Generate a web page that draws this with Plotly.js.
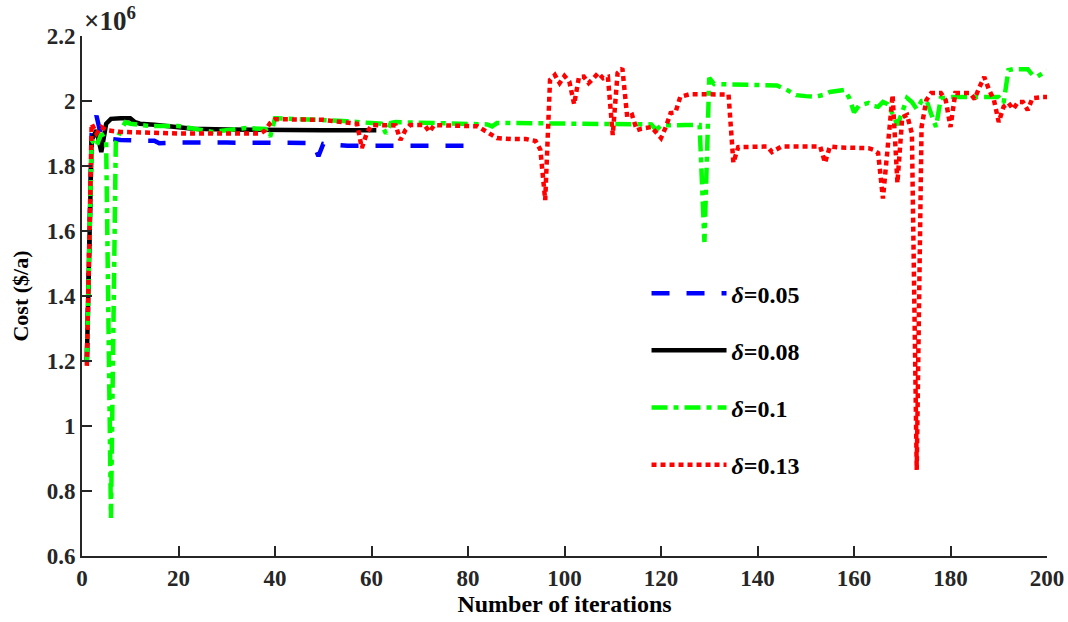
<!DOCTYPE html>
<html>
<head>
<meta charset="utf-8">
<script src="https://cdn.plot.ly/plotly-3.0.1.min.js"></script>
<style>html,body{margin:0;padding:0;background:#fff;}#chart{width:1068px;height:622px;}</style>
</head>
<body>
<div id="chart"></div>
<script>
// Cost values in units of 1e6 $/a
const blueX = [1,2,3,4,5,8,12,15,16,20,30,40,47,48,49,50,53,55,60,70,82];
const blueY = [1.20,1.90,1.955,1.89,1.885,1.88,1.878,1.878,1.870,1.872,1.872,1.872,1.871,1.868,1.830,1.868,1.865,1.862,1.862,1.862,1.862];

const blackX = [1,2,3,4,5,6,8,10,11,12,15,20,23,30,40,50,61];
const blackY = [1.20,1.88,1.91,1.843,1.93,1.945,1.947,1.947,1.935,1.930,1.927,1.918,1.915,1.912,1.910,1.910,1.910];

const greenX = [1,2,3,4,5,6,7,8,9,10,14,20,27,34,38,39,40,45,50,55,60,62,63,64,65,70,80,84,85,86,90,100,110,118,119,120,125,128,129,130,131,135,140,144,146,148,150,152,154,155,156,158,159,160,161,162,163,164,165,166,167,168,169,170,171,172,173,174,175,176,177,178,180,185,190,191,192,193,196,197,198,199,200];
const greenY = [1.20,1.88,1.86,1.90,1.875,0.717,1.87,1.91,1.935,1.930,1.923,1.923,1.905,1.917,1.914,1.890,1.947,1.945,1.940,1.938,1.932,1.930,1.900,1.932,1.935,1.933,1.932,1.928,1.922,1.932,1.932,1.930,1.930,1.928,1.911,1.925,1.926,1.926,1.566,2.071,2.052,2.050,2.048,2.048,2.035,2.018,2.015,2.013,2.020,2.028,2.030,2.034,2.010,1.965,1.985,1.988,1.994,1.985,1.982,1.997,1.990,1.960,1.926,1.966,2.009,1.997,1.975,2.000,2.003,1.960,1.920,2.009,2.012,2.012,2.012,1.994,2.095,2.098,2.098,2.080,2.075,2.085,2.095];

const redX = [1,2,3,4,5,8,20,37,38,39,40,50,54,57,58,59,60,65,66,67,68,71,72,73,82,84,86,89,92,94,95,96,97,98,99,100,101,102,103,104,105,106,107,108,109,110,111,112,113,114,115,116,118,120,121,122,123,124,126,134,135,136,142,143,145,153,154,155,157,163,164,165,166,167,168,169,170,171,172,173,174,175,176,178,179,180,181,184,185,186,187,188,189,190,191,192,193,194,195,196,197,199,200];
const redY = [1.185,1.93,1.90,1.92,1.91,1.905,1.900,1.900,1.910,1.932,1.944,1.942,1.935,1.930,1.855,1.900,1.926,1.925,1.880,1.910,1.926,1.926,1.905,1.926,1.922,1.905,1.886,1.883,1.883,1.877,1.850,1.695,2.065,2.080,2.055,2.077,2.060,1.990,2.074,2.075,2.055,2.070,2.086,2.070,2.074,1.895,2.086,2.100,1.950,1.957,1.910,1.915,1.920,1.886,1.920,1.963,1.965,2.013,2.021,2.020,1.810,1.858,1.860,1.843,1.860,1.860,1.810,1.860,1.857,1.855,1.850,1.840,1.700,1.860,2.018,1.748,1.950,1.957,1.900,0.865,1.920,2.003,2.025,2.025,2.003,1.920,2.025,2.025,2.006,2.043,2.074,2.034,2.003,1.935,1.982,1.994,1.975,1.997,1.997,1.972,2.009,2.012,2.012];

const seriesNames = ['<b><i>δ</i>=0.05</b>','<b><i>δ</i>=0.08</b>','<b><i>δ</i>=0.1</b>','<b><i>δ</i>=0.13</b>'];
const xTicks = [0,20,40,60,80,100,120,140,160,180,200];
const yTicks = [0.6,0.8,1,1.2,1.4,1.6,1.8,2,2.2];
const yTickText = ['0.6','0.8','1','1.2','1.4','1.6','1.8','2','2.2'];

const serif = 'Liberation Serif, Times New Roman, serif';
const axisColor = '#262626';

const traces = [
  {x: blueX, y: blueY, name: seriesNames[0], legendgroup: 'a', mode: 'lines', line: {color: '#0000ff', width: 4.5, dash: '18px,17px'}},
  {x: blackX, y: blackY, name: seriesNames[1], legendgroup: 'b', mode: 'lines', line: {color: '#000000', width: 4.5}},
  {x: greenX, y: greenY, name: seriesNames[2], legendgroup: 'c', mode: 'lines', line: {color: '#00ff00', width: 4.5, dash: '16px,6px,5px,6px'}},
  {x: redX, y: redY, name: seriesNames[3], legendgroup: 'd', mode: 'lines', line: {color: '#ff0000', width: 4.5, dash: '5px,4px'}}
];

const layout = {
  width: 1068, height: 622,
  margin: {l: 82, r: 21, t: 36, b: 66, pad: 0},
  paper_bgcolor: '#ffffff', plot_bgcolor: '#ffffff',
  showlegend: true,
  legend: {
    x: 0.585, y: 0.548, xanchor: 'left', yanchor: 'top',
    bgcolor: 'rgba(0,0,0,0)', borderwidth: 0,
    font: {family: serif, size: 24, color: '#000'},
    itemwidth: 75, tracegroupgap: 23,
    traceorder: 'grouped'
  },
  xaxis: {
    range: [0, 200], tickvals: xTicks, ticktext: xTicks.map(String),
    ticks: 'inside', ticklen: 10, tickwidth: 2, tickcolor: axisColor,
    showline: true, linecolor: axisColor, linewidth: 2, mirror: false,
    showgrid: false, zeroline: false,
    tickfont: {family: serif, size: 23, color: axisColor, weight: 'bold'},
    title: {text: '<b>Number of iterations</b>', font: {family: serif, size: 24, color: '#000'}, standoff: 5}
  },
  yaxis: {
    range: [0.6, 2.2], tickvals: yTicks, ticktext: yTickText,
    ticks: 'inside', ticklen: 10, tickwidth: 2, tickcolor: axisColor,
    showline: true, linecolor: axisColor, linewidth: 2, mirror: false,
    showgrid: false, zeroline: false,
    tickfont: {family: serif, size: 23, color: axisColor, weight: 'bold'},
    title: {text: '<b>Cost ($/a)</b>', font: {family: serif, size: 22, color: '#000'}, standoff: 12}
  },
  annotations: [
    {xref: 'paper', yref: 'paper', x: 0, y: 1, xanchor: 'left', yanchor: 'bottom', yshift: -2, xshift: 0,
     text: '<b>×10<sup>6</sup></b>', showarrow: false, font: {family: serif, size: 27, color: axisColor}}
  ]
};

Plotly.newPlot('chart', traces, layout, {displayModeBar: false, staticPlot: true});
</script>
</body>
</html>
